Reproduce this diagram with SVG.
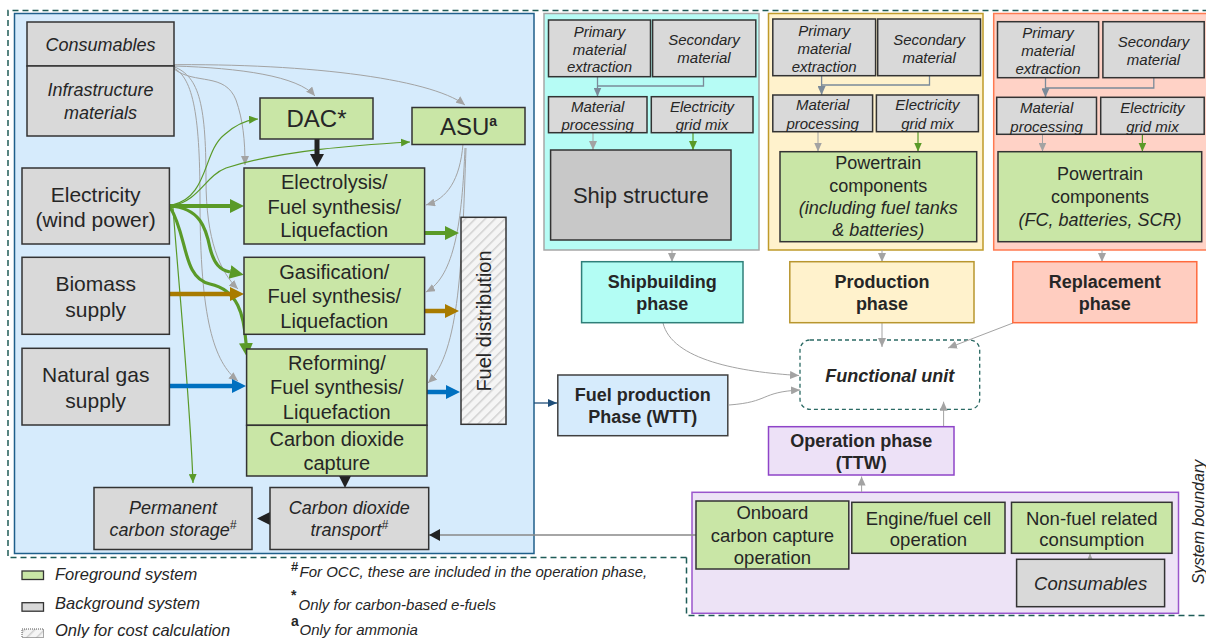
<svg xmlns="http://www.w3.org/2000/svg" width="1206" height="638" viewBox="0 0 1206 638">
<style>
text{font-family:"Liberation Sans",Arial,sans-serif;fill:#262626}
.gb{fill:#d9d9d9;stroke:#333;stroke-width:1.5}
.gn{fill:#c9e6a6;stroke:#333;stroke-width:1.5}
.it{font-style:italic}
.b{font-weight:bold}
.t21{font-size:21px}
.t20{font-size:20px}
.t18{font-size:18px}
.t15{font-size:15px}
.gc{fill:none;stroke:#a3a3a3;stroke-width:1}
.grs{fill:none;stroke:#5a9a28;stroke-width:1.2}
.grL{fill:none;stroke:#5a9a28;stroke-width:4}
.grC{fill:none;stroke:#5a9a28;stroke-width:3.2}
.sl{fill:none;stroke:#7b8a99;stroke-width:1.3}
</style>
<defs>
<pattern id="hatch" patternUnits="userSpaceOnUse" width="7" height="7" patternTransform="rotate(45)">
<rect width="7" height="7" fill="#f5f5f5"/>
<line x1="0" y1="0" x2="0" y2="7" stroke="#d0d0d0" stroke-width="3"/>
</pattern>
<marker id="aGray" markerUnits="userSpaceOnUse" markerWidth="10" markerHeight="8" refX="9" refY="4" orient="auto"><path d="M0,0 L9,4 L0,8 z" fill="#a3a3a3"/></marker>
<marker id="aGrS" markerUnits="userSpaceOnUse" markerWidth="10" markerHeight="8" refX="9" refY="4" orient="auto"><path d="M0,0 L9,4 L0,8 z" fill="#5a9a28"/></marker>
<marker id="aSl" markerUnits="userSpaceOnUse" markerWidth="10" markerHeight="8" refX="9" refY="4" orient="auto"><path d="M0,0 L9,4 L0,8 z" fill="#7b8a99"/></marker>
<marker id="aNavy" markerUnits="userSpaceOnUse" markerWidth="10" markerHeight="8" refX="9" refY="4" orient="auto"><path d="M0,0 L9,4 L0,8 z" fill="#1f4e79"/></marker>
<marker id="aDk" markerUnits="userSpaceOnUse" markerWidth="12" markerHeight="12" refX="11" refY="6" orient="auto"><path d="M0,0 L11,6 L0,12 z" fill="#222"/></marker>
<marker id="aGrL" markerUnits="userSpaceOnUse" markerWidth="15" markerHeight="15" refX="0" refY="7" orient="auto"><path d="M0,0 L14,7 L0,14 z" fill="#5a9a28"/></marker>
<marker id="aBrL" markerUnits="userSpaceOnUse" markerWidth="15" markerHeight="15" refX="0" refY="7" orient="auto"><path d="M0,0 L14,7 L0,14 z" fill="#a87b00"/></marker>
<marker id="aBlL" markerUnits="userSpaceOnUse" markerWidth="15" markerHeight="15" refX="0" refY="7" orient="auto"><path d="M0,0 L14,7 L0,14 z" fill="#0070c0"/></marker>
<marker id="aBkL" markerUnits="userSpaceOnUse" markerWidth="15" markerHeight="15" refX="0" refY="7" orient="auto"><path d="M0,0 L13,7 L0,14 z" fill="#222"/></marker>
</defs>
<rect width="1206" height="638" fill="#fff"/>

<!-- panels -->
<g id="panel-fuel">
<rect x="14.5" y="13.5" width="519.5" height="540" fill="#d6ebfc" stroke="#1f5f8b" stroke-width="1.5"/>
</g>
<g id="panel-ship">
<rect x="544" y="13.5" width="215" height="236.5" fill="#b6fcf5" stroke="#a6a6a6" stroke-width="1.5"/>
</g>
<g id="panel-production">
<rect x="768.5" y="13.5" width="214.5" height="236.5" fill="#fff2cc" stroke="#bf9a2a" stroke-width="1.5"/>
</g>
<g id="panel-replacement">
<rect x="993.7" y="13.5" width="215" height="236.5" fill="#ffd2c6" stroke="#ff7a50" stroke-width="1.5"/>
</g>
<g id="panel-operation">
<rect x="692" y="492.3" width="486.5" height="121" fill="#ede3f6" stroke="#9a55cc" stroke-width="1.5"/>
</g>

<!-- system boundary -->
<g id="system-boundary">
<path d="M686.5,557.5 L8,557.5 L8,10.5 L1210,10.5 M686.5,557.5 L686.5,615.5 L1210,615.5" fill="none" stroke="#1f5c57" stroke-width="1.5" stroke-dasharray="6,4"/>
<text x="1198" y="528" transform="rotate(-90 1198 522)" text-anchor="middle" class="it" font-size="16">System boundary</text>
</g>

<g id="functional-unit">
<rect x="800" y="340" width="179.7" height="69.3" rx="10" fill="#fff" stroke="#2b6a64" stroke-width="1.3" stroke-dasharray="4,3"/>
<text x="889.8" y="382" text-anchor="middle" class="b it t18">Functional unit</text>
</g>

<!-- connectors -->
<g id="connectors">
<!-- gray from consumables -->
<path class="gc" d="M150,65 C300,62 430,78 465,105" marker-end="url(#aGray)"/>
<path class="gc" d="M174,66 C240,68 298,76 315,96" marker-end="url(#aGray)"/>
<path class="gc" d="M174,69 C195,85 225,72 236,100 C243,120 245,140 245,165" marker-end="url(#aGray)"/>
<path class="gc" d="M172,66 C198,75 206,100 206,180 C206,240 220,272 238,289" marker-end="url(#aGray)"/>
<path class="gc" d="M172,67 C192,76 200,110 200,200 C200,320 214,362 238,381" marker-end="url(#aGray)"/>
<!-- gray from ASU -->
<path class="gc" d="M463,144 C460,180 447,199 426,205" marker-end="url(#aGray)"/>
<path class="gc" d="M465,148 C462,220 455,276 426,292" marker-end="url(#aGray)"/>
<path class="gc" d="M466,148 C462,260 460,352 428,383" marker-end="url(#aGray)"/>
<!-- thin green from electricity -->
<path class="grs" d="M172,205 C208,198 203,152 224,135 C234,126 245,120 258,119" marker-end="url(#aGrS)"/>
<path class="grs" d="M172,206 C200,200 205,176 226,168 C282,150 360,145 410,142" marker-end="url(#aGrS)"/>
<path class="grs" d="M173,208 C180,300 190,400 193,483" marker-end="url(#aGrS)"/>
<!-- thick -->
<path class="grL" d="M169,206 L230,206" marker-end="url(#aGrL)"/>
<path class="grC" d="M170,206 C200,208 206,228 210,248 C214,264 220,270 230,272" marker-end="url(#aGrL)"/>
<path class="grC" d="M170,207 C188,236 182,278 210,284 C238,290 244,315 246,343" marker-end="url(#aGrL)"/>
<path d="M169,294 L230,294" stroke="#a87b00" stroke-width="4.5" fill="none" marker-end="url(#aBrL)"/>
<path d="M169,386 L232,386" stroke="#0070c0" stroke-width="4.5" fill="none" marker-end="url(#aBlL)"/>
<path class="grL" d="M424,233 L445,233" marker-end="url(#aGrL)"/>
<path d="M424,311 L445,311" stroke="#a87b00" stroke-width="4.5" fill="none" marker-end="url(#aBrL)"/>
<path d="M427,392 L446,392" stroke="#0070c0" stroke-width="4.5" fill="none" marker-end="url(#aBlL)"/>
<path d="M317,139 L317,154" stroke="#222" stroke-width="5" fill="none" marker-end="url(#aBkL)"/>
<!-- CO2 triangles -->
<polygon points="339,476 351,476 345,488" fill="#222"/>
<polygon points="270,512 270,525 257,518.5" fill="#222"/>
<!-- onboard -> transport -->
<path d="M696,535 L429,535" stroke="#888" stroke-width="1.5" fill="none" marker-end="url(#aDk)"/>
<!-- fuel panel -> fuel production -->
<path d="M534,403 L557,403" stroke="#1f4e79" stroke-width="1.3" fill="none" marker-end="url(#aNavy)"/>
<!-- ship panel internal -->
<path class="sl" d="M597.5,77 L597.5,96.5" marker-end="url(#aSl)"/>
<path class="sl" d="M703.5,77 L703.5,86 L597.5,86"/>
<path class="gc" d="M593,133 L593,150" marker-end="url(#aGray)"/>
<path class="grs" d="M693,133 L693,150" marker-end="url(#aGrS)"/>
<!-- production panel internal -->
<path class="sl" d="M821.6,76 L821.6,95" marker-end="url(#aSl)"/>
<path class="sl" d="M929.5,76 L929.5,85 L821.6,85"/>
<path class="gc" d="M818,132 L818,151.5" marker-end="url(#aGray)"/>
<path class="grs" d="M918,132 L918,151.5" marker-end="url(#aGrS)"/>
<!-- replacement panel internal -->
<path class="sl" d="M1045.5,78 L1045.5,97.3" marker-end="url(#aSl)"/>
<path class="sl" d="M1153.8,78 L1153.8,88 L1045.5,88"/>
<path class="gc" d="M1042.5,134.5 L1042.5,151.5" marker-end="url(#aGray)"/>
<path class="grs" d="M1142.4,134.5 L1142.4,151.5" marker-end="url(#aGrS)"/>
<!-- panels -> phases -->
<path class="gc" d="M672,250 L672,262" marker-end="url(#aGray)"/>
<path class="gc" d="M882,250 L882,262" marker-end="url(#aGray)"/>
<path class="gc" d="M1102,250 L1102,262" marker-end="url(#aGray)"/>
<!-- phases -> functional unit -->
<path class="gc" d="M663,323 C672,360 740,372 799,375.5" marker-end="url(#aGray)"/>
<path class="gc" d="M729,405 C770,402 760,392 800,390" marker-end="url(#aGray)"/>
<path class="gc" d="M882,323 L882,347" marker-end="url(#aGray)"/>
<path class="gc" d="M1013,323 L948,348" marker-end="url(#aGray)"/>
<path class="gc" d="M943.6,426.7 L943.6,401.7" marker-end="url(#aGray)"/>
<path class="gc" d="M861.6,492 L861.6,476.5" marker-end="url(#aGray)"/>
<path class="gc" d="M1090,559.5 L1090,553.5" marker-end="url(#aGray)"/>
</g>

<!-- left panel nodes -->
<g id="consumables">
<rect class="gb" x="27" y="22" width="147" height="44"/>
<text x="100.5" y="50.5" text-anchor="middle" class="it t18">Consumables</text>
</g>
<g id="infrastructure">
<rect class="gb" x="27" y="66" width="147" height="70"/>
<text x="100.5" y="95.5" text-anchor="middle" class="it t18">Infrastructure</text>
<text x="100.5" y="119" text-anchor="middle" class="it t18">materials</text>
</g>
<g id="dac">
<rect class="gn" x="260" y="98" width="113" height="41"/>
<text x="316.5" y="127" text-anchor="middle" font-size="24">DAC*</text>
</g>
<g id="asu">
<rect class="gn" x="412" y="107.5" width="113" height="37"/>
<text x="468.5" y="134.5" text-anchor="middle" font-size="24">ASU<tspan font-size="14" font-weight="bold" dy="-9">a</tspan></text>
</g>
<g id="electricity">
<rect class="gb" x="22" y="168" width="147.4" height="76"/>
<text x="95.7" y="201.5" text-anchor="middle" class="t21">Electricity</text>
<text x="95.7" y="226.5" text-anchor="middle" class="t21">(wind power)</text>
</g>
<g id="electrolysis">
<rect class="gn" x="244" y="168" width="180.6" height="76"/>
<text x="334.3" y="188.5" text-anchor="middle" class="t20">Electrolysis/</text>
<text x="334.3" y="213.5" text-anchor="middle" class="t20">Fuel synthesis/</text>
<text x="334.3" y="237" text-anchor="middle" class="t20">Liquefaction</text>
</g>
<g id="biomass">
<rect class="gb" x="22" y="257.3" width="147.4" height="77"/>
<text x="95.7" y="290.5" text-anchor="middle" class="t21">Biomass</text>
<text x="95.7" y="317" text-anchor="middle" class="t21">supply</text>
</g>
<g id="gasification">
<rect class="gn" x="244" y="257.3" width="180.6" height="77"/>
<text x="334.3" y="279" text-anchor="middle" class="t20">Gasification/</text>
<text x="334.3" y="303" text-anchor="middle" class="t20">Fuel synthesis/</text>
<text x="334.3" y="328" text-anchor="middle" class="t20">Liquefaction</text>
</g>
<g id="natural-gas">
<rect class="gb" x="22" y="348.3" width="147.4" height="76.7"/>
<text x="95.7" y="382" text-anchor="middle" class="t21">Natural gas</text>
<text x="95.7" y="408" text-anchor="middle" class="t21">supply</text>
</g>
<g id="reforming">
<rect class="gn" x="246.6" y="349" width="180.4" height="76.3"/>
<text x="336.8" y="370" text-anchor="middle" class="t20">Reforming/</text>
<text x="336.8" y="393.5" text-anchor="middle" class="t20">Fuel synthesis/</text>
<text x="336.8" y="418.5" text-anchor="middle" class="t20">Liquefaction</text>
</g>
<g id="co2-capture">
<rect class="gn" x="246.6" y="425.3" width="180.4" height="50.7"/>
<text x="336.8" y="446" text-anchor="middle" class="t20">Carbon dioxide</text>
<text x="336.8" y="470" text-anchor="middle" class="t20">capture</text>
</g>
<g id="fuel-distribution">
<rect x="461" y="217.3" width="45" height="207" fill="url(#hatch)" stroke="#333" stroke-width="1.5"/>
<text x="483.5" y="328" transform="rotate(-90 483.5 321)" text-anchor="middle" class="t20">Fuel distribution</text>
</g>
<g id="permanent-storage">
<rect class="gb" x="94" y="487.5" width="158" height="62"/>
<text x="173" y="513.5" text-anchor="middle" class="it t18">Permanent</text>
<text x="173" y="536" text-anchor="middle" class="it t18">carbon storage<tspan font-size="12" dy="-7">#</tspan></text>
</g>
<g id="co2-transport">
<rect class="gb" x="270" y="487.5" width="158.7" height="62"/>
<text x="349.3" y="513.5" text-anchor="middle" class="it t18">Carbon dioxide</text>
<text x="349.3" y="536" text-anchor="middle" class="it t18">transport<tspan font-size="12" dy="-7">#</tspan></text>
</g>

<!-- ship panel nodes -->
<g id="ship-primary">
<rect class="gb" x="548.5" y="20" width="102" height="56.7"/>
<text x="599.5" y="37" text-anchor="middle" class="it t15">Primary</text>
<text x="599.5" y="54.5" text-anchor="middle" class="it t15">material</text>
<text x="599.5" y="72" text-anchor="middle" class="it t15">extraction</text>
</g>
<g id="ship-secondary">
<rect class="gb" x="652.6" y="20" width="103.2" height="56.7"/>
<text x="704" y="45" text-anchor="middle" class="it t15">Secondary</text>
<text x="704" y="63" text-anchor="middle" class="it t15">material</text>
</g>
<g id="ship-processing">
<rect class="gb" x="548.5" y="96.7" width="98.5" height="36"/>
<text x="597.7" y="111.5" text-anchor="middle" class="it t15">Material</text>
<text x="597.7" y="130" text-anchor="middle" class="it t15">processing</text>
</g>
<g id="ship-grid">
<rect class="gb" x="651.3" y="96.7" width="101.7" height="36"/>
<text x="702" y="111.5" text-anchor="middle" class="it t15">Electricity</text>
<text x="702" y="130" text-anchor="middle" class="it t15">grid mix</text>
</g>
<g id="ship-structure">
<rect x="550.6" y="150" width="180.4" height="90" fill="#c8c8c8" stroke="#333" stroke-width="1.5"/>
<text x="640.8" y="203" text-anchor="middle" font-size="22">Ship structure</text>
</g>

<!-- production panel nodes -->
<g id="prod-primary">
<rect class="gb" x="772.8" y="19" width="102.8" height="56.7"/>
<text x="824.2" y="35.5" text-anchor="middle" class="it t15">Primary</text>
<text x="824.2" y="53.5" text-anchor="middle" class="it t15">material</text>
<text x="824.2" y="71.5" text-anchor="middle" class="it t15">extraction</text>
</g>
<g id="prod-secondary">
<rect class="gb" x="877.7" y="19" width="102.8" height="56.7"/>
<text x="929.1" y="44.8" text-anchor="middle" class="it t15">Secondary</text>
<text x="929.1" y="62.8" text-anchor="middle" class="it t15">material</text>
</g>
<g id="prod-processing">
<rect class="gb" x="772.8" y="95" width="99.8" height="36.7"/>
<text x="822.7" y="109.5" text-anchor="middle" class="it t15">Material</text>
<text x="822.7" y="128.8" text-anchor="middle" class="it t15">processing</text>
</g>
<g id="prod-grid">
<rect class="gb" x="876.4" y="95" width="102" height="36.7"/>
<text x="927.4" y="109.5" text-anchor="middle" class="it t15">Electricity</text>
<text x="927.4" y="128.8" text-anchor="middle" class="it t15">grid mix</text>
</g>
<g id="prod-powertrain">
<rect class="gn" x="780" y="151.7" width="196.7" height="90"/>
<text x="878.3" y="168.7" text-anchor="middle" class="t18">Powertrain</text>
<text x="878.3" y="191.7" text-anchor="middle" class="t18">components</text>
<text x="878.3" y="214" text-anchor="middle" class="it t18">(including fuel tanks</text>
<text x="878.3" y="236" text-anchor="middle" class="it t18">&amp; batteries)</text>
</g>

<!-- replacement panel nodes -->
<g id="repl-primary">
<rect class="gb" x="997.5" y="21.7" width="101.1" height="56"/>
<text x="1048" y="37.8" text-anchor="middle" class="it t15">Primary</text>
<text x="1048" y="56" text-anchor="middle" class="it t15">material</text>
<text x="1048" y="73.8" text-anchor="middle" class="it t15">extraction</text>
</g>
<g id="repl-secondary">
<rect class="gb" x="1102.9" y="21.7" width="101.3" height="56"/>
<text x="1153.5" y="47" text-anchor="middle" class="it t15">Secondary</text>
<text x="1153.5" y="64.8" text-anchor="middle" class="it t15">material</text>
</g>
<g id="repl-processing">
<rect class="gb" x="996.7" y="97.3" width="99.8" height="37"/>
<text x="1046.6" y="112.8" text-anchor="middle" class="it t15">Material</text>
<text x="1046.6" y="131.5" text-anchor="middle" class="it t15">processing</text>
</g>
<g id="repl-grid">
<rect class="gb" x="1100.7" y="97.3" width="103.5" height="37"/>
<text x="1152.4" y="112.8" text-anchor="middle" class="it t15">Electricity</text>
<text x="1152.4" y="131.5" text-anchor="middle" class="it t15">grid mix</text>
</g>
<g id="repl-powertrain">
<rect class="gn" x="998" y="151.7" width="203.7" height="90"/>
<text x="1100" y="180" text-anchor="middle" class="t18">Powertrain</text>
<text x="1100" y="203" text-anchor="middle" class="t18">components</text>
<text x="1100" y="226" text-anchor="middle" class="it t18">(FC, batteries, SCR)</text>
</g>

<!-- phases -->
<g id="shipbuilding-phase">
<rect x="581.6" y="261.7" width="161.4" height="61" fill="#b3fdf4" stroke="#2f7f79" stroke-width="1.5"/>
<text x="662.3" y="288" text-anchor="middle" class="b t18">Shipbuilding</text>
<text x="662.3" y="310" text-anchor="middle" class="b t18">phase</text>
</g>
<g id="production-phase">
<rect x="789.8" y="261.7" width="184.2" height="61" fill="#fff2cc" stroke="#b8962e" stroke-width="1.5"/>
<text x="881.9" y="288" text-anchor="middle" class="b t18">Production</text>
<text x="881.9" y="310" text-anchor="middle" class="b t18">phase</text>
</g>
<g id="replacement-phase">
<rect x="1012.8" y="261.7" width="184" height="61" fill="#ffcdc0" stroke="#ff6a3d" stroke-width="1.5"/>
<text x="1104.8" y="288" text-anchor="middle" class="b t18">Replacement</text>
<text x="1104.8" y="310" text-anchor="middle" class="b t18">phase</text>
</g>
<g id="fuel-production-phase">
<rect x="557.8" y="375" width="170" height="60.7" fill="#d6ebfc" stroke="#404040" stroke-width="1.5"/>
<text x="642.8" y="401" text-anchor="middle" class="b t18">Fuel production</text>
<text x="642.8" y="423" text-anchor="middle" class="b t18">Phase (WTT)</text>
</g>
<g id="operation-phase">
<rect x="768.5" y="426.7" width="185.5" height="48.3" fill="#ede1f7" stroke="#8e44c8" stroke-width="1.5"/>
<text x="861.3" y="447" text-anchor="middle" class="b t18">Operation phase</text>
<text x="861.3" y="469" text-anchor="middle" class="b t18">(TTW)</text>
</g>

<!-- operation nodes -->
<g id="onboard-cc">
<rect class="gn" x="696" y="501" width="152.8" height="68"/>
<text x="772.4" y="519" text-anchor="middle" font-size="18.5">Onboard</text>
<text x="772.4" y="542" text-anchor="middle" font-size="18.5">carbon capture</text>
<text x="772.4" y="564" text-anchor="middle" font-size="18.5">operation</text>
</g>
<g id="engine">
<rect class="gn" x="851.8" y="502.3" width="153.2" height="51"/>
<text x="928.4" y="524.5" text-anchor="middle" font-size="18.5">Engine/fuel cell</text>
<text x="928.4" y="545.5" text-anchor="middle" font-size="18.5">operation</text>
</g>
<g id="non-fuel">
<rect class="gn" x="1011.5" y="502.3" width="160.5" height="51"/>
<text x="1091.8" y="524.5" text-anchor="middle" font-size="18.5">Non-fuel related</text>
<text x="1091.8" y="545.5" text-anchor="middle" font-size="18.5">consumption</text>
</g>
<g id="op-consumables">
<rect class="gb" x="1016.6" y="559.3" width="148" height="47.4"/>
<text x="1090.6" y="589.5" text-anchor="middle" class="it" font-size="18.5">Consumables</text>
</g>

<!-- legend -->
<g id="legend">
<rect x="22" y="571" width="21.5" height="8.5" fill="#c9e6a6" stroke="#333" stroke-width="1.3"/>
<text x="55" y="580" class="it" font-size="16.5">Foreground system</text>
<rect x="22" y="602.7" width="21.5" height="8.5" fill="#d9d9d9" stroke="#333" stroke-width="1.3"/>
<text x="55" y="608.5" class="it" font-size="16.5">Background system</text>
<rect x="22" y="629" width="21.5" height="8.5" fill="url(#hatch)" stroke="#555" stroke-width="1" stroke-dasharray="1,1"/>
<text x="55" y="635.5" class="it" font-size="16.5">Only for cost calculation</text>
<text x="291" y="571" font-size="13" font-weight="bold">#</text>
<text x="299.5" y="577" class="it t15">For OCC, these are included in the operation phase,</text>
<text x="291" y="600" font-size="14" font-weight="bold">*</text>
<text x="298.5" y="610" class="it t15">Only for carbon-based e-fuels</text>
<text x="291" y="626" font-size="14" font-weight="bold">a</text>
<text x="299.5" y="635" class="it t15">Only for ammonia</text>
</g>
</svg>
